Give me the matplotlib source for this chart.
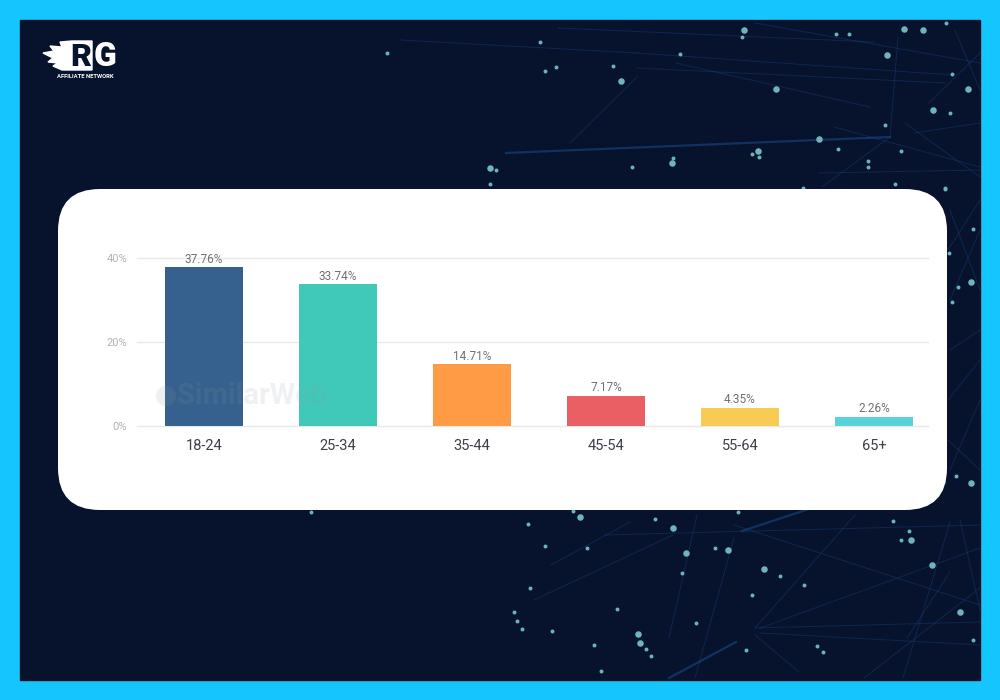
import matplotlib
matplotlib.use('Agg')
import matplotlib.pyplot as plt
from matplotlib.patches import FancyBboxPatch, Rectangle, Polygon, Circle

ageGroups = ['18-24', '25-34', '35-44', '45-54', '55-64', '65+']
shares = [37.76, 33.74, 14.71, 7.17, 4.35, 2.26]
barColors = ['#36618e', '#40c9b8', '#ff9a45', '#e95f63', '#f8cb55', '#5ad3d8']
yTicks = [0, 20, 40]

# background specks (pixels)
smallDotX = [387, 540, 545, 556, 613, 680, 742, 836, 849, 946, 952, 950, 885, 838, 901, 868, 868, 752, 759, 673, 632,
             496, 490, 895, 945, 803, 311, 573, 528, 655, 738, 545, 587, 715, 780, 682, 804, 752, 530, 893, 909, 901,
             973, 514, 517, 522, 552, 617, 696, 646, 651, 594, 601, 746, 817, 823, 945, 973, 949, 958, 952, 956, 943]
smallDotY = [53, 42, 71, 67, 66, 54, 37, 34, 34, 23, 74, 113, 125, 149, 151, 161, 167, 154, 157, 158, 167,
             170, 184, 184, 188, 188, 512, 511, 524, 519, 512, 546, 548, 548, 576, 573, 585, 595, 588, 521, 531, 540,
             640, 612, 621, 629, 631, 609, 623, 649, 656, 645, 671, 650, 646, 652, 189, 229, 253, 287, 302, 476, 482]
bigDotX = [744, 621, 776, 933, 968, 819, 758, 490, 580, 673, 686, 728, 764, 932, 960, 638, 640, 911, 971, 971, 904, 923,
           887, 672]
bigDotY = [30, 81, 89, 110, 89, 139, 151, 168, 517, 528, 553, 550, 569, 565, 612, 634, 643, 540, 282, 483, 29, 30,
           55, 163]

# faint streaks: x0, y0, x1, y1
lineX0 = [400, 558, 637, 637, 676, 755, 819, 834, 898, 890, 914, 905, 929, 570,
          551, 534, 755, 760, 755, 864, 903, 695, 669, 604, 734, 760, 799, 907,
          950, 948, 948, 950, 950, 948, 950, 960, 955]
lineY0 = [40, 28, 53, 68, 63, 23, 173, 127, 37, 137, 133, 123, 103, 143,
          565, 600, 628, 633, 628, 678, 678, 678, 638, 535, 525, 628, 672, 638,
          300, 400, 440, 210, 350, 250, 470, 520, 30]
lineX1 = [637, 874, 953, 945, 870, 980, 980, 980, 890, 822, 980, 980, 980, 637,
          630, 673, 980, 980, 855, 980, 950, 734, 697, 980, 980, 980, 755, 950,
          980, 980, 980, 980, 980, 980, 980, 980, 980]
lineY1 = [53, 42, 75, 83, 107, 63, 170, 167, 137, 187, 123, 177, 53, 77,
          522, 535, 622, 645, 515, 588, 522, 538, 515, 525, 605, 548, 635, 572,
          230, 360, 470, 290, 330, 200, 400, 610, 90]
# the brighter ones
streakX0 = [506, 742, 669]
streakY0 = [153, 531, 678]
streakX1 = [890, 812, 736]
streakY1 = [137, 508, 642]

fig = plt.figure(figsize=(10, 7), dpi=100, facecolor='#15c5fd')
plt.rcParams['font.family'] = ['Roboto', 'DejaVu Sans']

# whole picture in pixel coords for the backdrop
bg = fig.add_axes([0, 0, 1, 1])
bg.set_xlim(0, 1000)
bg.set_ylim(700, 0)
bg.axis('off')
bg.add_patch(Rectangle((20, 20), 960, 660, color='#07132d', zorder=0))
for i in range(len(lineX0)):
    bg.plot([lineX0[i], lineX1[i]], [lineY0[i], lineY1[i]], color='#1a4a8f', lw=0.7, alpha=0.35, zorder=1)
for i in range(len(streakX0)):
    bg.plot([streakX0[i], streakX1[i]], [streakY0[i], streakY1[i]], color='#1d4f94', lw=1.6, alpha=0.5, zorder=1)
bg.scatter(smallDotX, smallDotY, s=8, color='#6db3bb', linewidths=0, zorder=2)
bg.scatter(bigDotX, bigDotY, s=22, color='#6fb3bd', linewidths=0, zorder=2)
bg.add_patch(FancyBboxPatch((58, 189), 889, 321, boxstyle='round,pad=0,rounding_size=42',
                            facecolor='white', edgecolor='none', zorder=3))

# logo: flames and block in white, R knocked out of it, G white
bg.add_patch(Polygon([(43, 53), (54, 51), (50, 46), (62, 47), (60, 42), (72, 41), (92, 41), (92, 70), (72, 70),
                      (62, 70), (53, 66), (58, 63), (48, 62), (53, 58)],
                     color='white', zorder=4))
bg.text(81, 56.5, 'R', color='#07132d', fontsize=23, fontweight='black', ha='center', va='center', zorder=5)
bg.text(105, 56.5, 'G', color='white', fontsize=24, fontweight='black', ha='center', va='center', zorder=5)
bg.text(85, 77, 'AFFILIATE NETWORK', color='white', fontsize=4.2, fontweight='bold', ha='center', va='center', zorder=5)

ax = fig.add_axes([137 / 1000, 1 - 426 / 700, (928 - 137) / 1000, 168 / 700])
ax.patch.set_alpha(0)
ax.set_zorder(5)
bars = ax.bar(range(len(shares)), shares, width=0.586, color=barColors, zorder=3)
ax.set_xlim(-0.5, 5.403)
ax.set_ylim(0, 40)
ax.set_yticks(yTicks)
ax.set_yticklabels(['%d%%' % t for t in yTicks], color='#b3b3b3', fontsize=8)
ax.set_xticks(range(len(ageGroups)))
ax.set_xticklabels(ageGroups, color='#3c4048', fontsize=10.5)
ax.tick_params(axis='both', length=0)
ax.tick_params(axis='x', pad=9.5)
ax.tick_params(axis='y', pad=7)
ax.grid(axis='y', color='#e8e8e8', lw=1, zorder=0)
ax.set_axisbelow(True)
for g in ax.get_ygridlines():
    g.set_clip_on(False)
for s in ax.spines.values():
    s.set_visible(False)
for b, v in zip(bars, shares):
    ax.text(b.get_x() + b.get_width() / 2, v + 0.35, '%.2f%%' % v, ha='center', va='bottom',
            color='#707070', fontsize=8.5, clip_on=False)

# watermark sits over the bars
top = fig.add_axes([0, 0, 1, 1])
top.set_xlim(0, 1000)
top.set_ylim(700, 0)
top.axis('off')
top.set_zorder(6)
top.add_patch(Circle((166, 396), 10, color='#8f98a3', alpha=0.14, lw=0))
top.text(252, 396, 'SimilarWeb', color='#8f98a3', alpha=0.14, fontsize=21, fontweight='bold', ha='center', va='center')

fig.savefig('out.png', dpi=100, facecolor=fig.get_facecolor())
